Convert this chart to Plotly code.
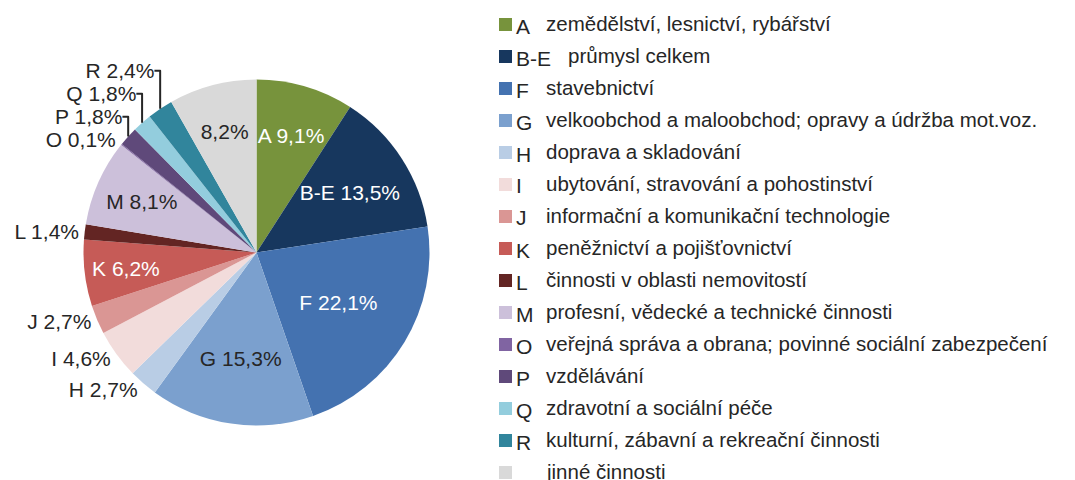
import plotly.graph_objects as go

# NACE sections, share of total (%)
codes = ["A", "B-E", "F", "G", "H", "I", "J", "K", "L", "M", "O", "P", "Q", "R", ""]
names = [
    "zemědělství, lesnictví, rybářství",
    "průmysl celkem",
    "stavebnictví",
    "velkoobchod a maloobchod; opravy a údržba mot.voz.",
    "doprava a skladování",
    "ubytování, stravování a pohostinství",
    "informační a komunikační technologie",
    "peněžnictví a pojišťovnictví",
    "činnosti v oblasti nemovitostí",
    "profesní, vědecké a technické činnosti",
    "veřejná správa a obrana; povinné sociální zabezpečení",
    "vzdělávání",
    "zdravotní a sociální péče",
    "kulturní, zábavní a rekreační činnosti",
    "jinné činnosti",
]
shares = [9.1, 13.5, 22.1, 15.3, 2.7, 4.6, 2.7, 6.2, 1.4, 8.1, 0.1, 1.8, 1.8, 2.4, 8.2]
colors = [
    "#77933C", "#17375E", "#4472B0", "#7BA0CE", "#B9CDE5", "#F2DCDB", "#DA9694",
    "#C65B57", "#632523", "#CCC0DA", "#8064A2", "#5F497A", "#93CDDD", "#31859C", "#D9D9D9",
]
inside = ["A", "B-E", "F", "G", "K", "M", ""]
white_text = ["A", "B-E", "F", "K"]

DARK = "#262626"
FONT = "Liberation Sans, Arial, sans-serif"
W, H = 1075, 480

labels = [f"{c} {v:.1f}%".replace(".", ",").strip() for c, v in zip(codes, shares)]
is_in = [c in inside for c in codes]


def dom(cx, cy, r):
    return dict(x=[(cx - r) / W, (cx + r) / W], y=[(H - cy - r) / H, (H - cy + r) / H])


cx, cy = 256.5, 252.5

fig = go.Figure()
# slices + outside labels
fig.add_trace(
    go.Pie(
        labels=[c or "jiné" for c in codes],
        values=shares,
        text=labels,
        textinfo="text",
        sort=False,
        direction="clockwise",
        marker=dict(colors=colors, line=dict(width=0)),
        textposition=["none" if b else "outside" for b in is_in],
        outsidetextfont=dict(family=FONT, size=21, color=DARK),
        domain=dom(cx, cy, 173),
        showlegend=False,
        hoverinfo="label+percent",
        automargin=False,
    )
)
# inside labels, set a bit closer to the centre (like Excel's best fit)
fig.add_trace(
    go.Pie(
        labels=[c or "jiné" for c in codes],
        values=shares,
        text=labels,
        textinfo="text",
        sort=False,
        direction="clockwise",
        marker=dict(colors=["rgba(0,0,0,0)"] * len(codes), line=dict(width=0)),
        textposition=["inside" if b else "none" for b in is_in],
        insidetextorientation="horizontal",
        insidetextfont=dict(
            family=FONT,
            size=21,
            color=["white" if c in white_text else DARK for c in codes],
        ),
        domain=dom(cx, cy, 157),
        showlegend=False,
        hoverinfo="skip",
        automargin=False,
    )
)

# custom legend: square, code, description
row_h = 32.0
for i, (c, n, col) in enumerate(zip(codes, names, colors)):
    yc = 24.5 + i * row_h
    y = 1 - yc / H
    fig.add_shape(
        type="rect", xref="paper", yref="paper",
        x0=499 / W, x1=512 / W, y0=y - 6.5 / H, y1=y + 6.5 / H,
        fillcolor=col, line=dict(width=0),
    )
    fig.add_annotation(
        x=514 / W, y=1 - (yc + 1.5) / H, xref="paper", yref="paper", text=c, showarrow=False,
        xanchor="left", yanchor="middle", font=dict(family=FONT, size=21, color=DARK),
    )
    fig.add_annotation(
        x=(566 if len(c) > 1 else 544) / W, y=1 - (yc - 1) / H, xref="paper", yref="paper",
        text=n, showarrow=False, xanchor="left", yanchor="middle",
        font=dict(family=FONT, size=20.5, color=DARK),
    )

fig.update_layout(
    width=W,
    height=H,
    margin=dict(l=0, r=0, t=0, b=0),
    paper_bgcolor="white",
    plot_bgcolor="white",
    uniformtext=dict(minsize=21, mode="show"),
    font=dict(family=FONT, color=DARK),
)

fig.write_html(
    "out.html",
    config={"displayModeBar": False},
    post_script="document.body.style.margin='0';",
)
